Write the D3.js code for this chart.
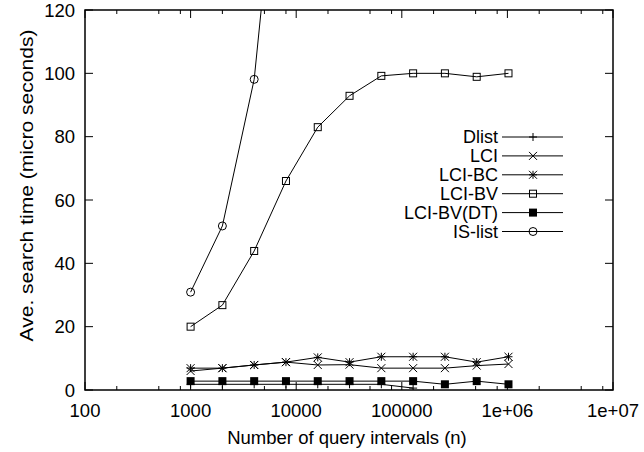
<!DOCTYPE html>
<html><head><meta charset="utf-8">
<script src="https://cdn.jsdelivr.net/npm/d3@7"></script>
<style>body{margin:0;background:#fff}svg{display:block}text{font-family:"Liberation Sans",Arial,Helvetica,sans-serif;fill:#000}</style>
</head><body>
<svg id="c" width="644" height="452"></svg>
<script>
const xValues = [1000,2000,4000,8000,16000,32000,64000,128000,256000,512000,1024000];
const dlist   = [1.8,1.8,1.8,1.8,1.8,1.8,1.8,0.6];
const lci     = [6.0,6.9,7.9,8.8,7.9,8.0,6.9,6.9,6.9,7.7,8.2];
const lciBC   = [6.9,6.9,7.9,8.8,10.3,8.8,10.5,10.5,10.5,8.8,10.5];
const lciBV   = [20,26.8,43.9,66,83,92.9,99.2,100,100,98.9,100];
const lciBVDT = [2.8,2.8,2.8,2.8,2.8,2.8,2.8,2.8,1.8,2.8,1.8];
const isList  = [30.9,51.8,98.1,197.7];
const seriesNames = ["Dlist","LCI","LCI-BC","LCI-BV","LCI-BV(DT)","IS-list"];
const xTickLabels = ["100","1000","10000","100000","1e+06","1e+07"];
const yTickValues = [0,20,40,60,80,100,120];
const xTitle = "Number of query intervals (n)";
const yTitle = "Ave. search time (micro seconds)";

const L=85,R=613,T=10,B=390;
const svg=d3.select("#c");
const x=d3.scaleLog().domain([100,1e7]).range([L,R]);
const y=d3.scaleLinear().domain([0,120]).range([B,T]);
const FS=18.5, LFS=18;

svg.append("defs").append("clipPath").attr("id","clip").append("rect")
  .attr("x",L).attr("y",T).attr("width",R-L).attr("height",B-T);

// ticks
const majorX=xTickLabels.map((d,i)=>Math.pow(10,i+2));
const minorX=[];
for(let i=0;i<5;i++){[2,5,8].forEach(m=>minorX.push(m*Math.pow(10,i+2)));}
const tg=svg.append("g").attr("stroke","#000").attr("stroke-width",1);
majorX.forEach(v=>{
  tg.append("line").attr("x1",x(v)).attr("x2",x(v)).attr("y1",B).attr("y2",B-8);
  tg.append("line").attr("x1",x(v)).attr("x2",x(v)).attr("y1",T).attr("y2",T+8);
});
minorX.forEach(v=>{
  tg.append("line").attr("x1",x(v)).attr("x2",x(v)).attr("y1",B).attr("y2",B-4);
  tg.append("line").attr("x1",x(v)).attr("x2",x(v)).attr("y1",T).attr("y2",T+4);
});
yTickValues.forEach(v=>{
  tg.append("line").attr("x1",L).attr("x2",L+8).attr("y1",y(v)).attr("y2",y(v));
  tg.append("line").attr("x1",R).attr("x2",R-8).attr("y1",y(v)).attr("y2",y(v));
});
// tick labels
xTickLabels.forEach((t,i)=>{
  svg.append("text").attr("x",x(majorX[i])).attr("y",B+27).attr("text-anchor","middle")
    .attr("font-size",FS).text(t);
});
yTickValues.forEach(v=>{
  svg.append("text").attr("x",L-10).attr("y",y(v)+6.5).attr("text-anchor","end")
    .attr("font-size",FS).text(v);
});
svg.append("text").attr("x",(L+R)/2-2).attr("y",444).attr("text-anchor","middle")
  .attr("font-size",FS).text(xTitle);
svg.append("text").attr("transform",`translate(33,185.5) rotate(-90)`)
  .attr("text-anchor","middle").attr("font-size",FS)
  .attr("textLength",312).attr("lengthAdjust","spacingAndGlyphs").text(yTitle);

// border
svg.append("rect").attr("x",L).attr("y",T).attr("width",R-L).attr("height",B-T)
  .attr("fill","none").attr("stroke","#000").attr("stroke-width",1.5);

// markers
const mk={
  plus:g=>g.append("path").attr("d","M-4,0H4M0,-4V4").attr("stroke","#000").attr("fill","none"),
  cross:g=>g.append("path").attr("d","M-4,-4L4,4M-4,4L4,-4").attr("stroke","#000").attr("fill","none"),
  star:g=>g.append("path").attr("d","M-4,0H4M0,-4V4M-4,-4L4,4M-4,4L4,-4").attr("stroke","#000").attr("fill","none"),
  box:g=>g.append("rect").attr("x",-3.5).attr("y",-3.5).attr("width",7).attr("height",7).attr("stroke","#000").attr("fill","none"),
  fbox:g=>g.append("rect").attr("x",-4).attr("y",-4).attr("width",8).attr("height",8).attr("fill","#000"),
  circle:g=>g.append("circle").attr("r",4).attr("stroke","#000").attr("fill","none")
};
const series=[
  {name:seriesNames[0],vals:dlist,m:"plus"},
  {name:seriesNames[1],vals:lci,m:"cross"},
  {name:seriesNames[2],vals:lciBC,m:"star"},
  {name:seriesNames[3],vals:lciBV,m:"box"},
  {name:seriesNames[4],vals:lciBVDT,m:"fbox"},
  {name:seriesNames[5],vals:isList,m:"circle"}
];
const plot=svg.append("g").attr("clip-path","url(#clip)");
const line=d3.line().x(d=>x(d[0])).y(d=>y(d[1]));
series.forEach(s=>{
  const pts=s.vals.map((v,i)=>[xValues[i],v]);
  plot.append("path").datum(pts).attr("d",line).attr("fill","none").attr("stroke","#000").attr("stroke-width",1);
  pts.forEach(p=>{const g=plot.append("g").attr("transform",`translate(${x(p[0])},${y(p[1])})`);mk[s.m](g);});
});
// legend
series.forEach((s,i)=>{
  const cy=137+i*18.9;
  svg.append("text").attr("x",498).attr("y",cy+6.3).attr("text-anchor","end").attr("font-size",LFS).text(s.name);
  svg.append("line").attr("x1",502).attr("x2",563).attr("y1",cy).attr("y2",cy).attr("stroke","#000");
  const g=svg.append("g").attr("transform",`translate(533,${cy})`);mk[s.m](g);
});
</script>
</body></html>
